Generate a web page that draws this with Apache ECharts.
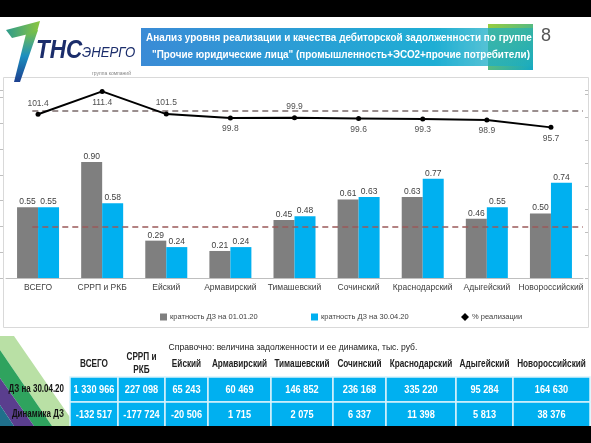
<!DOCTYPE html>
<html><head><meta charset="utf-8">
<script src="https://cdn.jsdelivr.net/npm/echarts@6/dist/echarts.min.js"></script>
<style>html,body{margin:0;padding:0;background:#fff}#c{width:591px;height:443px}</style>
</head><body><div id="c"></div>
<script>
// ---- data ----
const categories = ['ВСЕГО','СРРП и РКБ','Ейский','Армавирский','Тимашевский','Сочинский','Краснодарский','Адыгейский','Новороссийский'];
const ratio0101 = [0.55, 0.90, 0.29, 0.21, 0.45, 0.61, 0.63, 0.46, 0.50];
const ratio3004 = [0.55, 0.58, 0.24, 0.24, 0.48, 0.63, 0.77, 0.55, 0.74];
const realization = [101.4, 111.4, 101.5, 99.8, 99.9, 99.6, 99.3, 98.9, 95.7];
const ratioRef = 0.4;
const realizationRef = 103;
const seriesNames = ['кратность ДЗ на 01.01.20', 'кратность ДЗ на 30.04.20', '% реализации'];
const tableHeader = ['ВСЕГО','СРРП и\nРКБ','Ейский','Армавирский','Тимашевский','Сочинский','Краснодарский','Адыгейский','Новороссийский'];
const rowLabels = ['ДЗ на 30.04.20', 'Динамика ДЗ'];
const dzRow = ['1 330 966','227 098','65 243','60 469','146 852','236 168','335 220','95 284','164 630'];
const dynRow = ['-132 517','-177 724','-20 506','1 715','2 075','6 337','11 398','5 813','38 376'];
const titleLines = ['Анализ уровня реализации и качества дебиторской задолженности по группе',
                    '"Прочие юридические лица" (промышленность+ЭСО2+прочие потребители)'];
const subtitle = 'Справочно: величина задолженности и ее динамика, тыс. руб.';

// ---- layout / style ----
const FONT = 'Liberation Sans, Arial, sans-serif';
const lineLabelPos = ['top','bottom','top','bottom','top','bottom','bottom','bottom','bottom'];
const colEdges = [70, 118, 165, 208, 271, 333, 386, 456, 513, 590];

const chart = echarts.init(document.getElementById('c'), null, {renderer: 'canvas'});

const graphic = [];
// chart panel border
graphic.push({type:'rect', shape:{x:3.5, y:77.5, width:585, height:250}, style:{fill:'none', stroke:'#d9d9d9', lineWidth:1}, z:-1, silent:true});
// title block
graphic.push({type:'rect', shape:{x:488, y:24, width:45, height:46},
  style:{fill:new echarts.graphic.LinearGradient(0,0,1,1,[{offset:0,color:'#9acd3c'},{offset:1,color:'#12a8c6'}])}, z:1});
graphic.push({type:'rect', shape:{x:141, y:28, width:392, height:38},
  style:{fill:new echarts.graphic.LinearGradient(0,0,1,0,[{offset:0,color:'#3a8bd6'},{offset:0.75,color:'#1eaed4'},{offset:1,color:'rgba(30,174,190,0.55)'}])}, z:2});
graphic.push({type:'text', x:146, y:32, scaleX:0.865, z:3, style:{text:titleLines[0], fill:'#fff', font:'bold 11.5px ' + FONT}});
graphic.push({type:'text', x:152, y:49, scaleX:0.86, z:3, style:{text:titleLines[1], fill:'#fff', font:'bold 11.5px ' + FONT}});
graphic.push({type:'text', x:541, y:27, z:3, style:{text:'8', fill:'#555', font:'18px ' + FONT}});
// logo
graphic.push({type:'polygon', shape:{points:[[6,30],[40,21],[37,32],[12,38]]},
  style:{fill:new echarts.graphic.LinearGradient(0,0,1,0,[{offset:0,color:'#2e9b8c'},{offset:1,color:'#8cc63f'}])}, z:2});
graphic.push({type:'polygon', shape:{points:[[26,34],[38,30],[20,82],[14,82]]},
  style:{fill:new echarts.graphic.LinearGradient(0,0,0,1,[{offset:0,color:'#7cc242'},{offset:0.5,color:'#1c8fc0'},{offset:1,color:'#1d3f8f'}])}, z:2});
graphic.push({type:'text', x:36, y:39, scaleX:0.9, z:3, style:{text:'ТНС', fill:'#1b2d6b', font:'italic bold 25px ' + FONT}});
graphic.push({type:'text', x:82, y:45, scaleX:0.88, z:3, style:{text:'ЭНЕРГО', fill:'#1b2d6b', font:'italic 15px ' + FONT}});
graphic.push({type:'text', x:92, y:71, z:3, style:{text:'группа компаний', fill:'#888', font:'5px ' + FONT}});
// subtitle
graphic.push({type:'text', x:293, y:347, scaleX:0.9, z:3, style:{text:subtitle, fill:'#222', font:'9.5px ' + FONT, align:'center', verticalAlign:'middle'}});
// decoration bottom-left
graphic.push({type:'polygon', shape:{points:[[0,336],[14,336],[76,426],[52,426],[0,350]]}, style:{fill:'#b9e0a5'}, z:1});
graphic.push({type:'polygon', shape:{points:[[0,350],[52,426],[34,426],[0,378]]}, style:{fill:'#2fa35e'}, z:1});
graphic.push({type:'polygon', shape:{points:[[0,378],[34,426],[14,426],[0,405]]}, style:{fill:'#5a3e8e'}, z:1});
graphic.push({type:'polygon', shape:{points:[[0,405],[14,426],[0,426]]}, style:{fill:'#1f6f8b'}, z:1});
// table
const rowY = [377, 402];
const rowH = 25;
for (let i = 0; i < tableHeader.length; i++) {
  const x0 = colEdges[i], x1 = colEdges[i+1], cx = (x0 + x1) / 2;
  graphic.push({type:'text', x:cx, y:364, scaleX:0.82, z:3, style:{text:tableHeader[i], fill:'#222', font:'bold 10px ' + FONT, align:'center', verticalAlign:'middle', lineHeight:13}});
  [dzRow, dynRow].forEach((row, r) => {
    graphic.push({type:'rect', shape:{x:x0, y:rowY[r], width:x1 - x0, height:rowH}, style:{fill:'#00b0f0', stroke:'#d8f2fb', lineWidth:1.5}, z:2});
    graphic.push({type:'text', x:cx, y:rowY[r] + rowH/2, scaleX:0.8, z:3, style:{text:row[i], fill:'#fff', font:'bold 11.5px ' + FONT, align:'center', verticalAlign:'middle'}});
  });
}
rowLabels.forEach((t, r) => {
  graphic.push({type:'text', x:64, y:rowY[r] + rowH/2, scaleX:0.76, z:3, style:{text:t, fill:'#111', font:'bold 10.5px ' + FONT, align:'right', verticalAlign:'middle'}});
});
// black bands
graphic.push({type:'rect', shape:{x:0, y:0, width:591, height:17}, style:{fill:'#000'}, z:10});
graphic.push({type:'rect', shape:{x:0, y:426, width:591, height:17}, style:{fill:'#000'}, z:10});

const labelStyle = {fontSize:8.5, color:'#404040', fontFamily:FONT};
const legendCommon = {top:308, itemWidth:7, itemHeight:7, itemGap:4, textStyle:{fontSize:7.5, color:'#404040', fontFamily:FONT, padding:[0,0,0,-2]}, selectedMode:false};

chart.setOption({
  animation:false,
  textStyle:{fontFamily:FONT},
  graphic: graphic,
  legend:[
    Object.assign({left:155, data:[{name:seriesNames[0], icon:'rect'}]}, legendCommon),
    Object.assign({left:306, data:[{name:seriesNames[1], icon:'rect'}]}, legendCommon),
    Object.assign({left:456, data:[{name:seriesNames[2], icon:'diamond'}]}, legendCommon, {itemWidth:8, itemHeight:8})
  ],
  grid:{left:6, right:8, top:90, bottom:165, containLabel:false},
  xAxis:[
    {type:'category', data:categories, axisLine:{show:true, onZero:false, lineStyle:{color:'#bfbfbf', width:1}}, axisTick:{show:false},
     axisLabel:{fontSize:8.5, color:'#404040', margin:5, interval:0}},
    {type:'value', min:-0.5, max:8.5, show:false, axisLine:{onZero:false}}
  ],
  yAxis:[
    {type:'value', min:0, max:1.46, interval:0.2, offset:3, axisLine:{show:false, onZero:false}, splitLine:{show:false},
     axisTick:{show:true, inside:false, length:3, lineStyle:{color:'#bfbfbf'}}, axisLabel:{show:false}},
    {type:'value', min:30, max:112, interval:10, position:'right', offset:5, axisLine:{show:false, onZero:false}, splitLine:{show:false},
     axisTick:{show:true, inside:true, length:3, lineStyle:{color:'#bfbfbf'}}, axisLabel:{show:false}}
  ],
  series:[
    {name:seriesNames[0], type:'bar', data:ratio0101, barWidth:21, barGap:'0%', itemStyle:{color:'#7f7f7f'},
     label:{show:true, position:'top', distance:1, formatter:p => p.value.toFixed(2), ...labelStyle}},
    {name:seriesNames[1], type:'bar', data:ratio3004, barWidth:21, barGap:'0%', itemStyle:{color:'#00b0f0'},
     label:{show:true, position:'top', distance:1, formatter:p => p.value.toFixed(2), ...labelStyle}},
    {name:seriesNames[2], type:'line', yAxisIndex:1, z:5,
     data:realization.map((v, i) => ({value:v, label:{position:lineLabelPos[i]}})),
     symbol:'circle', symbolSize:5, lineStyle:{color:'#000', width:2}, itemStyle:{color:'#000'},
     label:{show:true, distance:4, formatter:p => p.value.toFixed(1), ...labelStyle, color:'#505050'}},
    {name:'ref1', type:'line', xAxisIndex:1, yAxisIndex:0, data:[], z:4,
     markLine:{silent:true, symbol:'none', label:{show:false},
       lineStyle:{color:'#9a5a5a', type:[6,4], width:1.5},
       data:[[{coord:[-0.09, ratioRef]}, {coord:[8.5, ratioRef]}]]}},
    {name:'ref2', type:'line', xAxisIndex:1, yAxisIndex:1, data:[], z:4,
     markLine:{silent:true, symbol:'none', label:{show:false},
       lineStyle:{color:'#7a6a6a', type:[6,4], width:1.5},
       data:[[{coord:[-0.09, realizationRef]}, {coord:[8.5, realizationRef]}]]}}
  ]
});
</script></body></html>
